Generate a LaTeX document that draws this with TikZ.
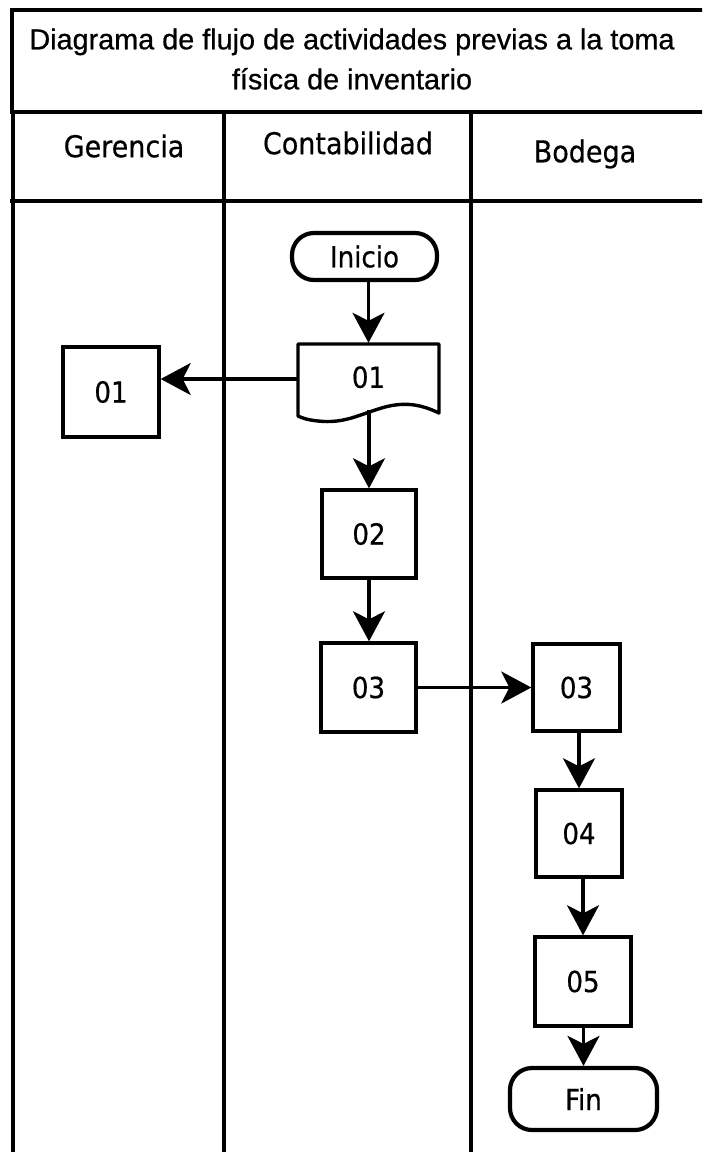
\documentclass[tikz,border=0pt]{standalone}
\usepackage{fontspec}
\setmainfont{Liberation Sans}[FakeBold=0.6]
\newfontfamily\titlefont{Liberation Sans}[FakeBold=0.7]
\newfontfamily\lanefont{DejaVu Sans Condensed}[FakeBold=0.5]
\usetikzlibrary{arrows.meta,calc}

\tikzset{
  lanerule/.style={line width=4.8pt},
  box/.style={draw, line width=3.4pt, rectangle, inner sep=0pt,
    font=\lanefont\fontsize{29}{32}\selectfont},
  terminal/.style={box, rounded corners=22pt, line width=4.2pt},
  flow/.style={line width=3.2pt,
    -{Stealth[length=30pt,width=32pt,inset=8pt]}},
  lanehead/.style={font=\lanefont\fontsize{30}{34}\selectfont},
  titletext/.style={align=center, font=\titlefont\fontsize{28.8}{40}\selectfont}
}

\begin{document}
\begin{tikzpicture}[x=1pt,y=-1pt]
  \useasboundingbox (0,0) rectangle (702,1152);
  \fill[white] (0,0) rectangle (702,1152);
  \clip (0,0) rectangle (702,1152);

  % title band
  \draw[lanerule] (12,10) -- (712,10);
  \draw[lanerule] (12,8) -- (12,114);
  \draw[lanerule] (10,112) -- (712,112);
  \node[titletext] (title) at (352,59)
    {Diagrama de flujo de actividades previas a la toma\\f\'isica de inventario};

  % swimlanes
  \draw[lanerule] (10,201) -- (712,201);
  \draw[lanerule] (13,112) -- (13,1160);
  \draw[lanerule] (224,112) -- (224,1160);
  \draw[lanerule] (471,112) -- (471,1160);

  \node[lanehead] (hg) at (124,146) {Gerencia};
  \node[lanehead] (hc) at (348,143) {Contabilidad};
  \node[lanehead] (hb) at (585,154) {Bodega};

  % steps
  \node[terminal, minimum width=145pt, minimum height=47pt] (inicio) at (364.5,256.5) {Inicio};

  \node[inner sep=0pt, minimum width=141pt, minimum height=72pt,
        font=\lanefont\fontsize{29}{32}\selectfont] (doc) at (368.5,379) {\raisebox{4pt}{01}};
  \draw[line width=3.4pt, line join=round, shift={(doc.center)}]
    (-70.5,-35) -- (70.5,-35) -- (70.5,34)
    .. controls (51.5,25) and (36.5,23) .. (16.5,28)
    .. controls (-8.5,35) and (-23.5,45) .. (-50.5,42)
    .. controls (-60.5,41) and (-66.5,39) .. (-70.5,37) -- cycle;
  \coordinate (docbot) at ($(doc.center)+(0.5,31)$);

  \node[box, minimum width=96pt, minimum height=90pt] (g01) at (111,392) {01};
  \node[box, minimum width=94pt, minimum height=88pt] (b02) at (369,534) {02};
  \node[box, minimum width=95pt, minimum height=89pt] (c03) at (368.5,687.5) {03};
  \node[box, minimum width=87pt, minimum height=87pt] (d03) at (576.5,687.5) {03};
  \node[box, minimum width=86pt, minimum height=87pt] (d04) at (579,833.5) {04};
  \node[box, minimum width=96pt, minimum height=89pt] (d05) at (583,981.5) {05};
  \node[terminal, minimum width=147pt, minimum height=62pt] (fin) at (583.5,1099) {Fin};

  % connectors
  \draw[flow] (doc.north |- inicio.south) -- (doc.north);
  \draw[flow] (doc.west) -- (doc.west -| g01.east);
  \draw[flow] (docbot) -- (docbot |- b02.north);
  \draw[flow] (b02.south) -- (b02.south |- c03.north);
  \draw[flow] (c03.east) -- (c03.east -| d03.west);
  \draw[flow] (d04.north |- d03.south) -- (d04.north);
  \draw[flow] (d05.north |- d04.south) -- (d05.north);
  \draw[flow] (fin.north |- d05.south) -- (fin.north);
\end{tikzpicture}
\end{document}
